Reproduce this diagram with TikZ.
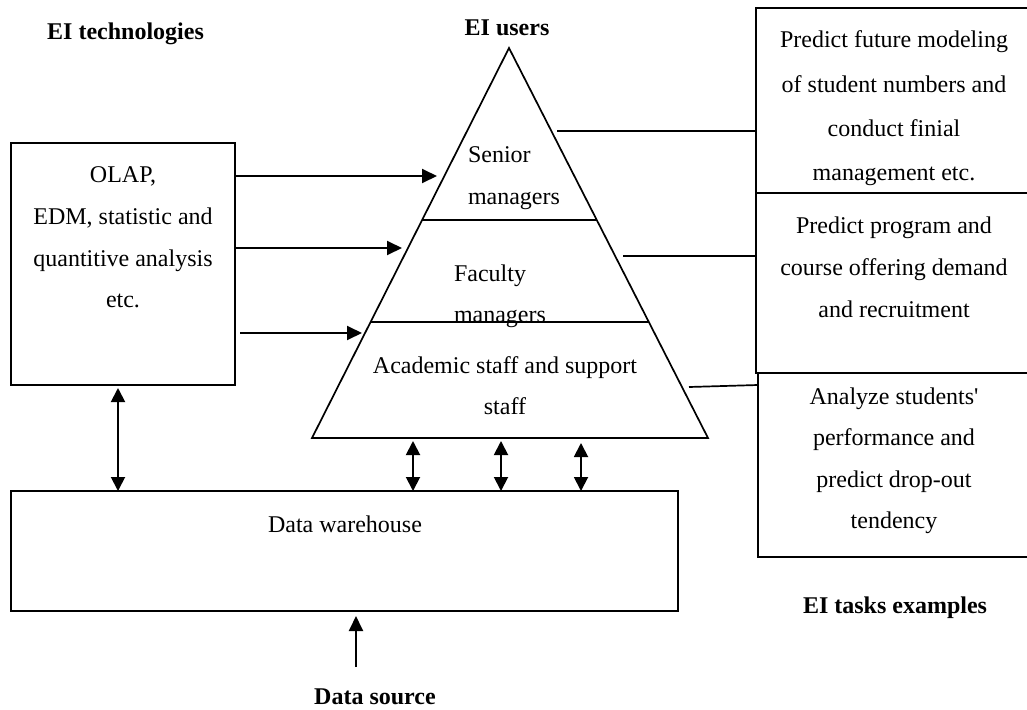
\documentclass[tikz,border=0pt]{standalone}
\usepackage{fontspec}
\setmainfont{Liberation Serif}
\usetikzlibrary{arrows.meta,calc}
\begin{document}
\begin{tikzpicture}[x=1pt,y=-1pt,
  every node/.style={inner sep=0pt, outer sep=0pt},
  body/.style={font=\fontsize{24}{#1}\selectfont, align=center},
  body/.default=41,
  lbody/.style={font=\fontsize{24}{#1}\selectfont, align=left},
  lbody/.default=41,
  head/.style={font=\fontsize{24}{29}\selectfont\bfseries, anchor=base},
  frame/.style={draw, line width=1.7pt, rectangle},
  link/.style={line width=1.7pt},
  arr/.style={line width=1.9pt, -{Triangle[length=15pt,width=14pt]}},
  dbl/.style={line width=1.9pt, {Triangle[length=14pt,width=14pt]}-{Triangle[length=14pt,width=14pt]}}
]
\useasboundingbox (0,0) rectangle (1027,709);
\clip (0,0) rectangle (1027,709);

% headings
\node[head] (hTech) at (125.5,40) {EI technologies};
\node[head] (hUsers) at (507,36) {EI users};
\node[head] (hTasks) at (895,613) {EI tasks examples};
\node[head] (hSrc) at (375,704) {Data source};

% boxes
\node[frame, minimum width=224pt, minimum height=242pt] (tech) at (123,264) {};
\node[body=41.7, anchor=north] (techTxt) at (123,167) {OLAP,\\EDM, statistic and\\quantitive analysis\\etc.};

\node[frame, minimum width=667pt, minimum height=120pt] (dw) at (344.5,551) {};
\node[font=\fontsize{24}{29}\selectfont, anchor=base] (dwTxt) at (345,532) {Data warehouse};

\node[frame, minimum width=284pt, minimum height=185pt] (task1) at (898,100.5) {};
\node[body=44.3, anchor=north] (task1Txt) at (894,31) {Predict future modeling\\of student numbers and\\conduct finial\\management etc.};
\node[frame, minimum width=284pt, minimum height=180pt] (task2) at (898,283) {};
\node[body=42, anchor=north] (task2Txt) at (894,217) {Predict program and\\course offering demand\\and recruitment};
\node[frame, minimum width=282pt, minimum height=184pt] (task3) at (899,465) {};
\node[body=41.3, anchor=north] (task3Txt) at (894,388) {Analyze students\textquotesingle\\performance and\\predict drop-out\\tendency};

% pyramid
\coordinate (apex) at (509,48);
\coordinate (bl) at (312,438);
\coordinate (br) at (708,438);
\draw[link, line join=miter] (apex) -- (bl) -- (br) -- cycle;
\draw[link] ($(apex)!0.441!(bl)$) -- ($(apex)!0.441!(br)$);
\draw[link] ($(apex)!0.7026!(bl)$) -- ($(apex)!0.7026!(br)$);
\node[lbody=42, anchor=north west] (senior) at (468,147) {Senior\\managers};
\node[lbody=41, anchor=north west] (faculty) at (454,265) {Faculty\\managers};
\node[body=41, anchor=north] (staff) at (505,357) {Academic staff and support\\staff};

% arrows technologies -> users
\coordinate (s1) at (437,176);
\coordinate (s2) at (402,248);
\coordinate (s3) at (362,333);
\draw[arr] (tech.east |- s1) -- (s1);
\draw[arr] (tech.east |- s2) -- (s2);
\draw[arr] ([xshift=5pt]tech.east |- s3) -- (s3);

% lines users -> tasks
\coordinate (c1) at (557,131);
\coordinate (c2) at (623,256);
\coordinate (c3) at (689,387);
\draw[link] (c1) -- (c1 -| task1.west);
\draw[link] (c2) -- (c2 -| task2.west);
\draw[link] (c3) -- (task3.west |- 0,385);

% double arrows
\coordinate (v0) at (118,388);
\draw[dbl] (v0) -- (v0 |- dw.north);
\coordinate (d1) at (413,441);
\coordinate (d2) at (501,441);
\coordinate (d3) at (581,443);
\draw[dbl] (d1) -- (d1 |- dw.north);
\draw[dbl] (d2) -- (d2 |- dw.north);
\draw[dbl] (d3) -- (d3 |- dw.north);

% data source
\coordinate (ds) at (356,667);
\coordinate (dsTip) at (356,616);
\draw[arr] (ds) -- (dsTip);
\end{tikzpicture}
\end{document}
